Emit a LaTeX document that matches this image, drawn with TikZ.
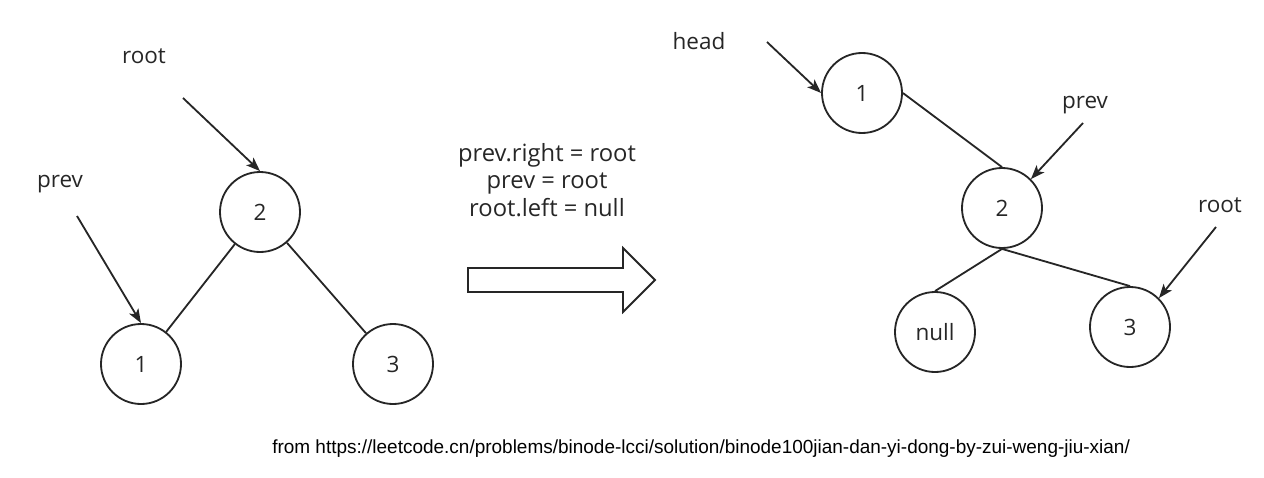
\documentclass[tikz,border=0pt]{standalone}
\usepackage{fontspec}
\setmainfont{Open Sans}
\newfontfamily\footfont{Liberation Sans}
\usetikzlibrary{arrows.meta}
\colorlet{ink}{black!85}
\def\tree{{(6.5,-5.3)/l2/2}, {(3.525,-9.1)/l1/1}, {(9.825,-9.1)/l3/3}, {(21.55,-2.325)/r1/1}, {(25.05,-5.2)/r2/2}, {(23.375,-8.3)/rn/null}, {(28.25,-8.175)/r3/3}}
\def\names{{(3.6,-1.575)/lroot/root}, {(1.5,-4.675)/lprev/prev}, {(17.475,-1.225)/head/head}, {(27.125,-2.7)/rprev/prev}, {(30.5,-5.3)/rroot/root}}
\def\tails{{(4.575,-2.45)/tlroot}, {(1.925,-5.4)/tlprev}, {(19.175,-1.05)/thead}, {(27.075,-3.075)/trprev}, {(30.4,-5.675)/trroot}}
\def\connect{l2/l1, l2/l3, r1.east/r2.north, r2.south/rn.north, r2.south/r3.north}
\def\pointers{tlroot/l2.north, tlprev/l1.north, thead/r1.west, trprev/r2.north east, trroot/r3.north east}
\tikzstyle{vertex}=[circle,draw=ink,line width=1.3pt,minimum size=2cm,inner sep=0pt,font=\fontsize{16}{19.5}\selectfont,text=ink]
\tikzstyle{var-name}=[anchor=base,inner sep=0pt,font=\fontsize{16}{19.5}\selectfont,text=ink]
\tikzstyle{edge} = [draw, ink, line width=1.3pt, -]
\tikzstyle{pointer} = [draw, ink, line width=1.3pt, -{Stealth[length=10pt,width=7.5pt,inset=2.5pt]}]
\tikzstyle{block arrow} = [draw, ink, line width=1.3pt, fill=white, line join=miter]

\begin{document}
\begin{tikzpicture}
  \useasboundingbox (0,0) rectangle (31.6,-11.95);

  % Both trees
  \foreach \pos/\name/\lbl in \tree {
    \node[vertex] (\name) at \pos {\lbl};
  }

  % Variable names and where their arrows start
  \foreach \pos/\name/\lbl in \names {
    \node[var-name] (\name) at \pos {\lbl};
  }
  \foreach \pos/\name in \tails {
    \node[coordinate] (\name) at \pos {};
  }

  \foreach \source/\sink in \connect
    \path[edge] (\source) -- (\sink);

  \foreach \source/\dest in \pointers
    \path[pointer] (\source) -- (\dest);

  % The step in between
  \node[align=center, font=\fontsize{16.9}{19.5}\selectfont, text=ink] (steps) at (13.675,-4.5)
    {prev.right = root\\prev = root\\root.left = null};
  \draw[block arrow] (11.7,-6.7) -- (15.575,-6.7) -- (15.575,-6.2) -- (16.375,-7)
    -- (15.575,-7.8) -- (15.575,-7.3) -- (11.7,-7.3) -- cycle;

  \node[anchor=base west, inner sep=0pt, font=\footfont\fontsize{13.5}{16}\selectfont] (source) at (6.8,-11.325)
    {from https://leetcode.cn/problems/binode-lcci/solution/binode100jian-dan-yi-dong-by-zui-weng-jiu-xian/};
\end{tikzpicture}
\end{document}
